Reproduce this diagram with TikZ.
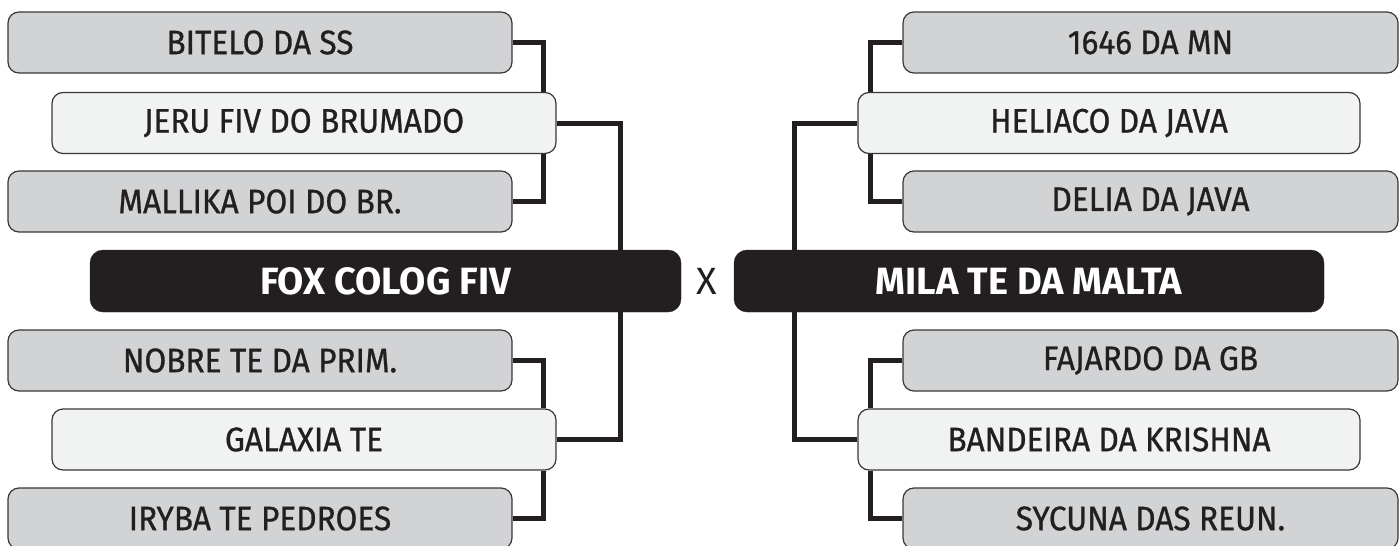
\documentclass[tikz,border=0pt]{standalone}
\usepackage{fontspec}
\setmainfont{Fira Sans}
\newfontfamily\smallfont{Fira Sans}[FakeStretch=0.93, FakeBold=0.8]
\usetikzlibrary{backgrounds}
\definecolor{boxgray}{HTML}{D1D3D4}
\definecolor{boxlight}{HTML}{F1F2F2}
\definecolor{ink}{HTML}{231F20}
\definecolor{edgec}{HTML}{3A3738}
\tikzset{
  lbl/.style={rectangle, rounded corners=11pt, draw=edgec, line width=1.2pt,
    minimum height=61pt, inner sep=0pt, text=ink,
    font=\smallfont\fontsize{34}{34}\selectfont},
  graybox/.style={lbl, fill=boxgray},
  lightbox/.style={lbl, fill=boxlight},
  finalbox/.style={rectangle, rounded corners=13pt, fill=ink, draw=ink,
    minimum height=62pt, inner sep=0pt, text=white,
    font=\bfseries\fontsize{38}{38}\selectfont},
  conn/.style={draw=ink, line width=5pt, line join=miter},
}
\begin{document}
\begin{tikzpicture}[x=1pt,y=-1pt]
\useasboundingbox (0,0) rectangle (1400,546);
% left side
\node[graybox, minimum width=504pt] (bitelo) at (260,42.5) {BITELO DA SS};
\node[lightbox, minimum width=504pt] (jeru) at (304,123) {JERU FIV DO BRUMADO};
\node[graybox, minimum width=504pt] (mallika) at (260,201.5) {MALLIKA POI DO BR.};
\node[finalbox, minimum width=591pt] (fox) at (385.5,281) {FOX COLOG FIV};
\node[graybox, minimum width=504pt] (nobre) at (260,360.5) {NOBRE TE DA PRIM.};
\node[lightbox, minimum width=504pt] (galaxia) at (304,439.5) {GALAXIA TE};
\node[graybox, minimum width=504pt] (iryba) at (260,518.5) {IRYBA TE PEDROES};
% versus
\node[text=ink, font=\fontsize{38}{38}\selectfont, inner sep=0pt] (vs) at (707,281) {X};
% right side
\node[graybox, minimum width=495pt] (m1646) at (1150.5,42.5) {1646 DA MN};
\node[lightbox, minimum width=502pt] (heliaco) at (1109,123) {HELIACO DA JAVA};
\node[graybox, minimum width=495pt] (delia) at (1150.5,201.5) {DELIA DA JAVA};
\node[finalbox, minimum width=590pt] (mila) at (1029,281) {MILA TE DA MALTA};
\node[graybox, minimum width=495pt] (fajardo) at (1150.5,360.5) {FAJARDO DA GB};
\node[lightbox, minimum width=502pt] (bandeira) at (1109,439.5) {BANDEIRA DA KRISHNA};
\node[graybox, minimum width=495pt] (sycuna) at (1150.5,518.5) {SYCUNA DAS REUN.};
\begin{scope}[on background layer]
  \draw[conn] (bitelo.east) -| ([xshift=-13pt]jeru.north east);
  \draw[conn] (mallika.east) -| ([xshift=-13pt]jeru.south east);
  \draw[conn] (jeru.east) -| ([xshift=-61pt]fox.north east);
  \draw[conn] (galaxia.east) -| ([xshift=-61pt]fox.south east);
  \draw[conn] (nobre.east) -| ([xshift=-13pt]galaxia.north east);
  \draw[conn] (iryba.east) -| ([xshift=-13pt]galaxia.south east);
  \draw[conn] (m1646.west) -| ([xshift=13pt]heliaco.north west);
  \draw[conn] (delia.west) -| ([xshift=13pt]heliaco.south west);
  \draw[conn] (heliaco.west) -| ([xshift=61pt]mila.north west);
  \draw[conn] (bandeira.west) -| ([xshift=61pt]mila.south west);
  \draw[conn] (fajardo.west) -| ([xshift=13pt]bandeira.north west);
  \draw[conn] (sycuna.west) -| ([xshift=13pt]bandeira.south west);
\end{scope}
\end{tikzpicture}
\end{document}
